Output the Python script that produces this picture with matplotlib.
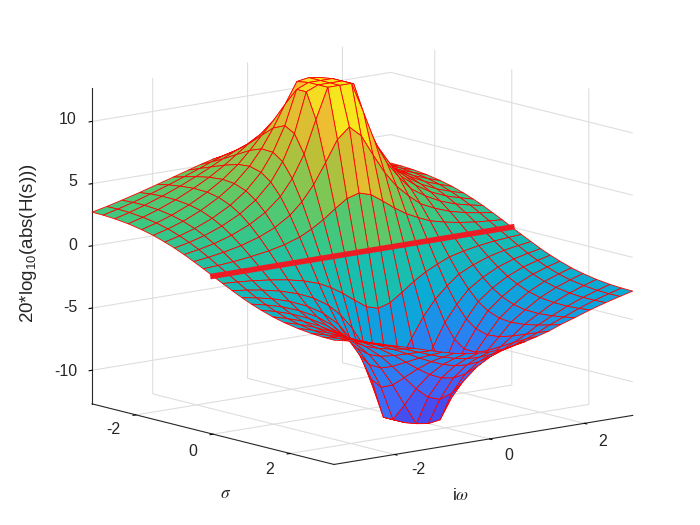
import numpy as np
import matplotlib
matplotlib.use("Agg")
import matplotlib.pyplot as plt
from matplotlib.colors import LinearSegmentedColormap

plt.rcParams['font.family'] = ['Liberation Sans', 'DejaVu Sans']
plt.rcParams['axes.unicode_minus'] = False
plt.rcParams['mathtext.fontset'] = 'custom'
plt.rcParams['mathtext.rm'] = 'Liberation Sans'
plt.rcParams['mathtext.it'] = 'Liberation Sans:italic'

# mesh levels
sigma_levels = [0, .25, .5, .75, 1, 1.25, 1.55, 1.85, 2.2, 2.55, 2.85, 3.14]
omega_neg = [-3.28, -2.97, -2.65, -2.28, -1.9, -1.57, -1.25, -1, -.75, -.5, -.25]
omega_pos = [0, .25, .5, .75, 1, 1.25, 1.5, 1.8, 2.12, 2.45, 2.75, 3.02]

# height in dB on the dip side (sigma >= 0), one row per sigma level, columns |omega| rising
dip_side = [
    [0.00, 0.00, 0.00, 0.00, 0.00, 0.00, 0.00, 0.00, 0.00, 0.00, 0.00, 0.00],
    [-4.44, -4.15, -3.48, -2.76, -2.15, -1.67, -1.26, -0.97, -0.74, -0.57, -0.47, -0.40],
    [-9.54, -8.69, -6.99, -5.39, -4.15, -3.23, -2.44, -1.89, -1.44, -1.13, -0.93, -0.78],
    [-12.7, -12.7, -10.25, -7.63, -5.82, -4.54, -3.46, -2.70, -2.07, -1.63, -1.36, -1.15],
    [-12.7, -12.7, -12.30, -9.09, -6.99, -5.51, -4.26, -3.36, -2.62, -2.08, -1.74, -1.48],
    [-12.7, -12.7, -12.30, -9.54, -7.56, -6.10, -4.81, -3.86, -3.05, -2.46, -2.07, -1.77],
    [-12.7, -12.55, -10.87, -9.12, -7.60, -6.36, -5.17, -4.26, -3.44, -2.81, -2.40, -2.07],
    [-10.51, -10.18, -9.35, -8.30, -7.24, -6.27, -5.27, -4.45, -3.67, -3.06, -2.64, -2.30],
    [-8.52, -8.36, -7.93, -7.32, -6.63, -5.94, -5.17, -4.49, -3.80, -3.24, -2.83, -2.50],
    [-7.20, -7.11, -6.85, -6.47, -6.02, -5.53, -4.95, -4.39, -3.82, -3.32, -2.94, -2.63],
    [-6.37, -6.31, -6.13, -5.87, -5.54, -5.17, -4.71, -4.26, -3.77, -3.32, -2.98, -2.69],
    [-5.71, -5.67, -5.54, -5.35, -5.10, -4.82, -4.45, -4.08, -3.66, -3.28, -2.97, -2.71],
]

z_ticks = [-10, -5, 0, 5, 10]
xy_ticks = [-2, 0, 2]

# colours seen on the surface, with the height where each shows
color_heights = [-12.7, -9, -6, -3, 0, 2.5, 5, 8, 11, 12.7]
color_values = ['#464bf0', '#3c6efa', '#1e8ceb', '#0aaad7', '#19beaf', '#3cc882',
                '#73c85a', '#c8be32', '#fabe32', '#f5e61e']
cmap = LinearSegmentedColormap.from_list(
    'surf', [((h + 12.7) / 25.4, c) for h, c in zip(color_heights, color_values)])

lv = np.array(sigma_levels)
sigma = np.concatenate([-lv[:0:-1], lv])
omega = np.array(omega_neg + omega_pos)
half = np.array(dip_side)
half = np.hstack([half[:, :0:-1], half])   # same both sides of omega = 0
Z = np.vstack([-half[:0:-1], half]).T      # peak side is the dip side turned over
X, Y = np.meshgrid(sigma, omega)

fig = plt.figure(figsize=(7, 5.25), dpi=100)
side = 620
ax = fig.add_axes([(354 - side/2)/700, (525 - 260 - side/2)/525, side/700, side/525], projection='3d', computed_zorder=False)
ax.set_proj_type('ortho')
ax.set_box_aspect((386, 386, 324), zoom=0.99)
ax.view_init(elev=11.7, azim=-39)
ax.patch.set_alpha(0)

colors = cmap((Z + 12.7) / 25.4)
ax.plot_surface(X, Y, Z, facecolors=colors, rstride=1, cstride=1, shade=False,
                edgecolor=(1, 0, 0), linewidth=0.6, zorder=1)
ax.plot(np.zeros_like(omega), omega, Z[:, len(sigma)//2], color='#ed1c24', lw=4, zorder=5, solid_capstyle='projecting')

ax.set_xlim(-3.14, 3.14)
ax.set_ylim(-3.28, 3.02)
ax.set_zlim(-12.7, 12.7)
ax.set_xticks(xy_ticks)
ax.set_yticks(xy_ticks)
ax.set_zticks(z_ticks)
ax.set_xticklabels([])
ax.set_yticklabels([])
ax.set_zticklabels([])

for axis in (ax.xaxis, ax.yaxis, ax.zaxis):
    axis.set_pane_color((1, 1, 1, 1))
    axis.pane.set_edgecolor((1, 1, 1, 0))
    axis.line.set_color('#262626')
    axis.line.set_linewidth(0.8)
    axis._axinfo['grid']['color'] = (.87, .87, .87, 1)
    axis._axinfo['grid']['linewidth'] = 0.8
    axis._axinfo['tick']['inward_factor'] = 0.12
    axis._axinfo['tick']['outward_factor'] = 0.0
    axis._axinfo['tick']['linewidth'] = {True: 0.8, False: 0.5}
ax.zaxis.set_ticks_position('lower')

# tick labels sit where the reference has them, mplot3d can only push them straight out
def label(x, y, s, **kw):
    fig.text(x/700, 1 - y/525, s, color='#262626', fontsize=kw.pop('fontsize', 11.5),
             ha=kw.pop('ha', 'center'), va='center', **kw)

for t, y in zip(z_ticks, [371, 308, 245, 182, 120]):
    label(77, y, str(t), ha='right')
for t, x, y in zip(xy_ticks, [113, 193, 270], [429, 451, 470]):
    label(x, y, str(t))
for t, x, y in zip(xy_ticks, [418, 509, 603], [470, 456, 441]):
    label(x, y, str(t))

label(29, 243, r'20*log$_{10}$(abs(H(s)))', rotation=90, fontsize=13.5)
label(226, 494, r'$\sigma$', fontsize=12.5, math_fontfamily='stix')
label(461, 495, r'i$\omega$', fontsize=12.5, math_fontfamily='stix')

fig.savefig('out.png', dpi=100)
